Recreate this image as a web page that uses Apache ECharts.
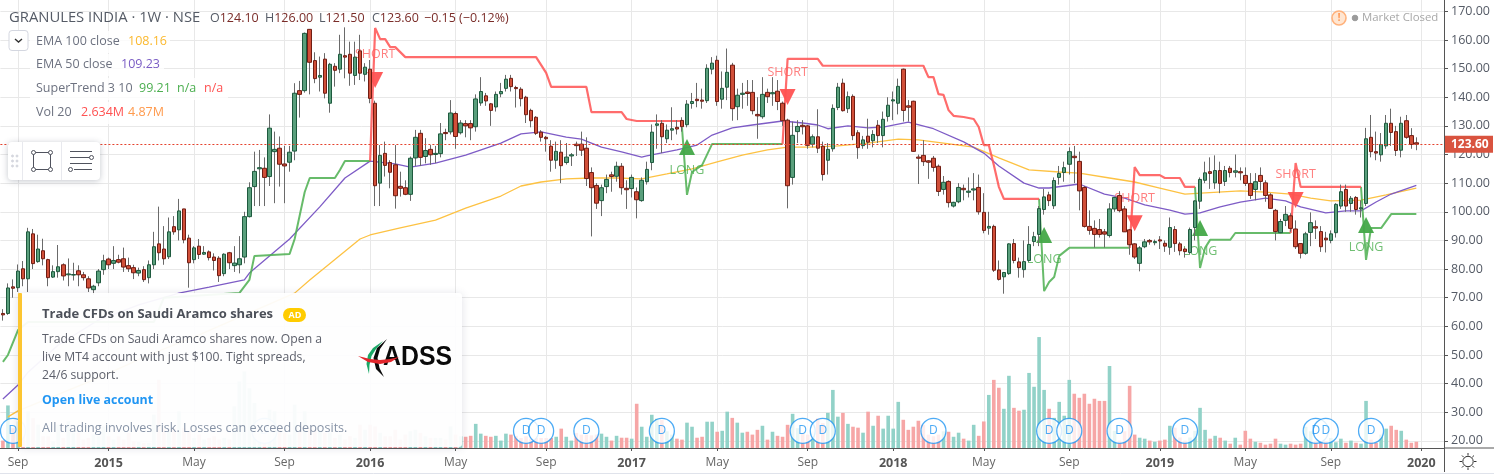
<!DOCTYPE html>
<html><head><meta charset="utf-8"><style>html,body{margin:0;padding:0;background:#fff;overflow:hidden}#c{width:1494px;height:474px}</style>
<script src="https://cdn.jsdelivr.net/npm/echarts@6/dist/echarts.min.js"></script></head><body><div id="c"></div>
<script>
const FONT='"Open Sans"';
// weekly categories
const weeks=[];(function(){let t=Date.UTC(2014,7,11);for(let i=0;i<287;i++){weeks.push(new Date(t).toISOString().slice(0,10));t+=7*864e5;}})();
const tickWeeks={'2014-09-01':'Sep','2015-01-05':'2015','2015-05-04':'May','2015-09-07':'Sep','2016-01-04':'2016','2016-05-02':'May','2016-09-05':'Sep','2017-01-02':'2017','2017-05-01':'May','2017-09-04':'Sep','2018-01-01':'2018','2018-05-07':'May','2018-09-03':'Sep','2019-01-07':'2019','2019-05-06':'May','2019-09-02':'Sep','2020-01-06':'2020'};
const priceTicks=[20,30,40,50,60,70,80,90,100,110,120,130,140,150,160,170];
// [open, close, low, high]
const ohlc=[
[64.5,64,62,66],[64.5,73.4,64,75],[73.8,73.3,70,76.4],[73.5,79.3,72,81.6],[80.1,76.6,74,82.8],[76.6,93,72,94.4],[92.3,81.9,80,94],[82.6,87,82.2,92],[86.4,83.6,81.3,90.6],[83.3,77,74,83.6],
[77.2,79.1,76.9,81.3],[79.1,80.8,77,88.4],[81.5,77.6,76,82],[78,78.3,74,83.7],[77.9,78.1,76,82.2],[79.4,78,74,81.3],[78,77,76,79],[76.6,73.4,72,77.5],[72.8,74,71,74.5],[75.2,79.3,74,80],
[79.8,82.9,78,85],[83.5,81.5,80,84],[82,83,80,88],[83.3,82.4,82,85],[83.6,80.7,79,87.5],[81.2,80.1,79,84],[80.5,78.7,76.5,81.5],[78.6,79.5,77.5,80.5],[79.8,76.3,75.5,81],[77,81.5,75,83],
[81.5,87.8,80,93],[88.8,85.7,83,101.8],[87,83.6,81.5,95],[84.3,93,83.5,98],[94.8,93,92,98.5],[93.7,100.3,90,104.5],[101,90.2,89,101],[90.8,82.2,73.5,92],[83.3,87.4,82,88],[88,85.1,83.5,90.5],
[85.2,85.8,85,88],[86,84,83,86.5],[84.2,83,79.5,85.5],[83.8,77.7,75.5,84.5],[78.4,85.2,77.5,85.5],[85.7,82.2,80,86],[81.2,82.1,79,88],[81.5,83.6,78.5,91.5],[84.2,98.3,82,100],[98.3,108.4,98,110.3],
[108.8,114.1,102,121],[115,115.4,102,121.6],[115.2,112,102,119],[112.3,129.2,109,134],[121,121.8,103,128],[122.2,116.6,108.8,126.3],[116.7,116,103,123],[117.3,120.8,114,123],[121.2,141.4,118,144.9],[142.3,141,132.9,145.7],
[142.3,162.3,141.6,162.6],[163.7,152.2,141,163.7],[152.8,146.5,144.9,155.7],[147,147.6,142,154.2],[153.3,141.4,139.6,155.4],[137.9,151.5,134.6,152],[150.8,149.4,143.7,151.9],[149.8,155,148.4,161.8],[154.5,154,146.6,164.4],[155,148.4,144,159.4],
[147.6,154,144.3,159.4],[156.2,148.4,146,161.8],[148,150.5,145.5,151.9],[149.8,139.6,137.9,153],[137.9,109.1,102,138.8],[110,119.7,102,123.3],[120.4,116.2,112.3,124.5],[117.2,113.8,108.2,118],[116.4,105.6,101.1,123.3],[108.9,108.2,105.3,114],
[108.4,106.1,105.8,111],[106.1,118.7,103.8,119.3],[118.8,126,116,128.6],[127.4,119,116,128.6],[119.3,121.4,116.9,125.7],[121.8,119.9,116.4,123.3],[120,120.4,117,123],[120.3,127.2,119,131],[127.7,127.3,125,129],[127.9,134.5,127,139],
[134.3,126.3,122,135],[127.6,131,127,132],[130.8,130,126,132],[130.8,129.3,125,132],[129.7,139.4,128,141],[138,142,137,147],[140.5,138.7,137,141.5],[137.7,135.4,130,138],[136.6,141,135,142],[141.2,142,140,145],
[143.1,146.3,142,147.8],[146.6,143.7,142,147.8],[143.4,143,136.4,144],[142.8,139.5,136.8,143.5],[140,133.9,131,140.5],[135.4,131.8,129.5,136],[133,127.4,126.8,133.4],[127.8,126,124.5,128.5],[126,125.5,121,126.5],[122.9,118,114,125],
[118,121.1,115,124.5],[120.8,116.1,110,125],[117.2,119.1,116.5,124],[119.5,119.9,116,120.5],[123.6,123.1,119.5,124.5],[123.6,121.5,119.5,128],[122.2,111.6,109,126],[113.7,108.4,91.4,115.5],[109.2,103,101,110],[103.9,108.4,98.5,109.5],
[108.8,111.3,106.5,113],[112.9,112.3,107,114],[112.4,115.9,110.5,117.5],[115.9,108.4,106,117],[108.2,107.7,101,111],[108.1,112,105,113],[107,104.2,97.7,108.5],[103.9,111,103.5,112],[110.5,114.8,109.5,117.5],[117.2,127.8,114.5,130.5],
[130.2,130.7,122,134],[130.9,126.2,120.5,132],[125.5,128.5,124,130.5],[128.5,129,125,136.5],[129.5,128.9,127,132],[131.9,129.7,128,133],[130.4,137.6,129.5,139],[137.8,138.5,136,141.5],[139.3,138.8,136.5,145],[139,138.6,136,143],
[138.8,150.1,138,151.5],[149.8,151.9,148,154],[152.9,138.5,137,154.5],[139.3,143.1,136,149],[143.5,148.7,139,157],[151.2,136,131.8,152],[136.7,140.7,132,143],[141,141.4,136,145],[141.8,141.3,137,146],[141.7,135.3,134,146],
[134,133.5,125.5,140],[133.2,141,132.5,147],[141.7,140.2,138,143],[141.2,141.6,137,147],[142.1,138.5,135.5,146],[137.9,131.8,130,138.5],[132,109.1,101.2,132.5],[112,126.7,109.5,131.5],[128,129.8,124,132],[130.2,129.7,127,132],
[130,123.2,122,130.3],[123.6,126.2,122.5,127],[126.2,122.2,120.5,135.8],[122.9,113,110.9,124.5],[118,121.8,113,124],[122,136.1,121,137.5],[136.4,143.5,135.5,145],[144.9,135.3,135,146.5],[136,140.2,134.5,142],[140.3,126.6,125,141],
[127.6,122.4,118.5,128.5],[123.1,125.1,122,126.5],[126.4,124.3,122,132.5],[124.8,127,122.5,128.5],[130.2,126.6,124,132],[126.6,132.3,122.5,135],[133.3,137.2,131.5,140],[138.7,139.1,132,142],[137.9,143.8,134,146.5],[149.8,135.4,131.5,150],
[137,136.5,131.5,139],[138.6,121.1,121,138.8],[119.1,118.7,109.7,120],[119.7,117.5,116,125],[117.8,117.3,111.5,118],[118.7,115.5,114,119.5],[115.9,107.1,105.5,116.5],[107.8,110.3,106,112.5],[110.6,103.2,101.5,111],[102,103.3,101.5,103.5],
[103.5,108.5,103,110],[108.2,107.7,104,109.5],[106.8,107.2,105,112],[107.6,108,104,113.5],[108.5,100,99,113],[99.8,93.5,92.5,106.5],[94.3,94.9,92,100],[94.9,79.6,79,95.5],[79.7,76.4,76,83],[77.3,78.8,71.4,79],
[78.4,88.8,78,89],[88.9,83,82,90.5],[82.5,80.5,77,84],[79.8,82.6,77,90],[83,88.6,82.5,95],[89.6,91.3,88,93],[92.1,101.1,88,102],[100.8,105.2,99,108],[105.9,103.9,102,107],[102.1,110.9,101,112],
[112,113.4,109.5,116],[113.7,115.4,110.5,117.5],[116.6,121,113,122.5],[119.4,118.9,110,123],[117.6,107.3,100.5,121],[108.5,94.9,94.5,109],[94.9,93.5,92,100.5],[94.2,92.1,87.5,97],[93.8,92.1,91,97.5],[93,92.2,87.5,94],
[91.7,101,91,103],[101,105,100,105.2],[105.7,100.4,99.8,107.2],[101,93,93,102],[93.7,88.5,85,94],[88.8,84.2,83.5,89],[82,87.4,79.2,88],[87.8,89.5,87.3,90.5],[90,89.5,88.5,90.5],[89.2,89.6,88.3,90.3],
[90.2,89.8,87,91.5],[89,88,86,90],[87.6,94.5,85,98],[93.8,88.9,86,95],[88.8,86.4,84.8,89.5],[87,86.1,84,87.5],[85.8,93.8,85,94.5],[94.5,103.8,90,104],[103.7,111.3,101,112],[111,113.6,110,117.5],
[114,113.4,108,119],[110.1,114.4,108,119.7],[114.4,109.9,106.5,117.5],[110.6,114.4,109,116],[115.2,113.7,112,116],[113.8,114.3,112,120],[114,113.6,111,115.5],[112.7,109.9,109,115.5],[109.9,105.7,104.5,113.5],[107.8,110.5,104,113.5],
[112.7,110.6,107.5,115.5],[110.1,105.7,103.5,111],[105.9,101.2,101,106.5],[100.5,93.1,90,101],[92.7,96.6,92.5,97.5],[97,99.1,95,102],[98.6,94.2,93,99.5],[94,87.8,87,97],[88.9,85.5,83.7,89],[85.5,92.3,85,93],
[92.8,96.2,88,99.8],[94.8,94.3,90.5,97],[93.1,87.8,86,95],[90.8,90.2,85.8,93],[90,92.3,89,93.5],[92.7,102.6,91,103],[102,107,101,109.5],[107.8,102,100,109.5],[102.9,104.7,100,105.5],[105,100.8,99,105.5],
[101,101.4,98,104],[102.9,125.5,102,129.3],[126,121,119,133.8],[121,120.5,118,128],[119.9,123.5,117.5,127.5],[123,130.9,122,133.8],[130.9,127.7,123,136],[128,121.4,119.5,130],[121.5,130.9,119,133.2],[131.8,126,125.5,133.8],
[126.6,123.5,122,129.2],[124.1,123.6,121.5,126]];
// volume, millions
const volume=[3.1,17.8,8.3,11.1,8.3,15.3,12.5,9.7,4.9,4.9,2.8,9.7,4.2,11.1,6.3,6.3,3.5,4.2,5.6,4.9,9,4.9,3.5,4.9,3.5,6.3,2.8,2.5,2.1,2.1,13.9,28.5,8.3,7,8.3,15.3,8.3,7,4.2,5.6,3.5,4.2,4.9,3.5,4.2,3.5,17.4,27.8,32,25,18.8,9.7,7,16,15.3,8.3,6.3,5.6,18.1,7,15.3,8.3,7.6,7,6.3,6.3,4.2,5.6,3.5,4.9,4.2,9.7,7.6,9.7,9,6.3,4.9,4.9,7.6,3.5,5.6,7,7.6,6.3,4.9,4.2,4.2,4.2,3.5,9,5.6,4.9,4.7,5.1,10.1,6,5.1,4.7,5.1,3.1,6,5.6,5.1,4.2,4.9,3.9,4.2,4.2,4.2,4.2,4.7,8.1,4.7,3.1,6.3,5.6,5.6,5.3,5.6,6,4.7,3.1,5.1,4.3,4.3,3.9,18.5,8.9,4.7,13.9,12.2,11.7,7,5.6,3.9,3.5,10.6,8.9,4.3,4.7,11,11,6.8,7.2,15.2,12.6,10.6,6.4,6.8,5.6,7.6,9.3,3.5,6.8,5.1,4.7,9.7,14.3,8.3,6.3,5.6,7,12.2,10.4,14.7,24.3,13.1,14.7,10.1,8.9,8.5,6.4,15.2,9.3,13.5,8.1,13.5,8.1,19.3,11.8,7.6,8.9,11.4,9.7,5.6,4.9,5.6,7,6.8,4.7,6.4,3.9,3.1,9.7,5.1,11.1,22.2,28.5,25.2,16.4,30.2,16.8,15.6,16,31.4,25.6,46.4,24.3,16.4,12.6,19.3,13.5,28.5,22.7,21,22.7,18.5,20.6,19.7,19.7,34.3,7.2,3.1,7,26,5.6,4.3,3.9,3.1,2.6,3.1,3.5,9.3,8.5,4.4,3.1,4.4,7.2,16.8,7.6,3.9,5.1,4.3,3.1,1.8,4.3,1.4,7.2,3.9,2.6,2.2,1.4,1.8,3.9,1.8,1.4,1.8,1.4,1.8,8.9,7,2.8,2.8,2.8,4.2,2.4,3.9,2.2,3.1,2.2,1.8,19.7,3.5,2.1,5.6,8.1,9.3,7.6,7.2,3.5,2.2,2.634];
// [week index, value]
const ema50=[[0,34.6],[3,39.5],[5,44],[11,53.5],[19,62.2],[27,67.5],[35,71.6],[41,73.7],[48,76.2],[49,78.6],[57,90.5],[63,101.7],[68,111.8],[73,117.7],[78,116.7],[81,115.6],[86,117],[92,119.8],[99,124],[103,127.2],[107,127.9],[112,126.1],[115,125.4],[119,122.6],[123,120.9],[127,119.1],[128,119.5],[134,121.6],[138,123.3],[141,126.8],[145,129.3],[149,130.3],[155,131.7],[159,131],[162,130.3],[164,129],[168,130],[172,129.3],[175,129.6],[180,131.3],[185,129],[191,124.4],[195,120.5],[198,116],[203,110],[206,108.3],[208,108.3],[214,109.7],[219,106.2],[223,104.8],[227,102.4],[232,100.6],[235,99.2],[238,99.6],[242,101.7],[246,103.4],[251,104.8],[255,103.8],[258,101.7],[263,99.6],[267,100.3],[270,100.3],[273,103.4],[276,106.2],[281,109.2]];
const ema100=[[1,28.4],[3,30.5],[19,42],[29,50],[39,57],[49,64.7],[58,71.6],[61,76.2],[71,90.5],[73,91.9],[79,94.4],[86,97.1],[92,101.3],[99,105.5],[103,109],[107,110.4],[112,111.5],[117,111.8],[122,111.8],[127,111.5],[132,113.2],[137,115],[142,117.4],[147,119.8],[152,121.6],[156,122.6],[161,122.6],[166,123],[172,124],[178,125.4],[182,125.1],[187,124],[193,122.6],[198,118.8],[204,114.6],[210,113.9],[214,113.5],[220,111.8],[225,110.4],[230,108.3],[235,106.2],[239,106.6],[246,107.3],[251,106.9],[256,106.2],[260,104.8],[264,103.8],[270,104.1],[275,105.9],[281,108.3]];
const trendUp=[
[[0,47.6],[1,50],[3,58.7],[5,61.5],[30,61.5],[32,70],[47,71.6],[49,76.2],[50,84.6],[57,85.3],[58,90.5],[60,106.9],[61,111.8],[66,111.8],[67,114.6],[68,117.7],[73,117.7]],
[[135,129.5],[136,105.9],[137,113.9],[139,116.3],[141,123.7],[155,123.7]],
[[206,104.5],[207,72.3],[208,75.5],[209,77.2],[210,84.6],[212,87.4],[224,87.4]],
[[237,108.7],[238,80.4],[239,87.4],[240,90.2],[244,90.2],[245,92.6],[256,92.6]],
[[270,108.7],[271,83.2],[272,94.3],[274,94.3],[276,99.2],[281,99.2]]];
const trendDown=[
[[73,117.7],[74,164.2],[75,160.3],[76,160.3],[77,157.5],[78,157.5],[80,154],[106,154],[108,148.5],[109,143.6],[116,143.6],[117,134.8],[123,134.8],[124,132.4],[126,131.7],[135,131.7]],
[[155,123.7],[156,153.4],[162,153.4],[163,151],[183,151],[184,147],[185,147],[186,141.1],[187,140.8],[188,135.5],[189,133.5],[191,133.1],[193,132.4],[194,129.6],[195,123.3],[196,123.3],[197,116.3],[198,108.7],[199,104.5],[206,104.5]],
[[224,87.4],[225,115.6],[226,112.8],[230,112.8],[231,111.8],[234,111.8],[235,108.7],[237,108.7]],
[[256,92.6],[257,117],[258,108.7],[270,108.7]]];
const longArrows=[[136,122.6],[207,91.9],[238,94.3],[271,95.4]];
const shortArrows=[[74,146],[156,140.1],[225,96],[257,104.1]];
const longLabels=[[136,114.3],[207,83.5],[238,86],[271,87.4]];
const shortLabels=[[74,155.1],[156,148.8],[225,104.8],[257,112.9]];
const dividendWeeks=[2,52,104,107,116,131,159,163,185,208,212,222,235,261,263,272];
const dividendLevel=23.5;
const lastClose=123.6;

const isTick=(i,v)=>tickWeeks[v]!==undefined;
const C={grid:'#e8e8e8',txt:'#555b66',green:'#4caf50',red:'#ff5252',up:'#5a9f7c',upB:'#1e5a3e',dn:'#d14f39',dnB:'#701d13'};
function line(name,d,color,w,op){return {name,type:'line',data:d,xAxisIndex:0,yAxisIndex:0,showSymbol:false,symbol:'none',z:2,silent:true,lineStyle:{color,width:w,opacity:op===undefined?1:op}};}
const series=[];
series.push({type:'bar',name:'Volume',xAxisIndex:1,yAxisIndex:1,barWidth:3.6,z:1,silent:true,
  data:volume.map((v,i)=>({value:v,itemStyle:{color:ohlc[i][1]>=ohlc[i][0]?'#92d2c8':'#f6a6a6'}}))});
series.push(line('EMA 100',ema100,'#fdc243',1.3));
series.push(line('EMA 50',ema50,'#7e5cc6',1.3));
trendUp.forEach(s=>series.push(line('ST up',s,C.green,2,.85)));
trendDown.forEach(s=>series.push(line('ST down',s,C.red,2.2,.85)));
const mk=(name,d,extra)=>Object.assign({name,type:'scatter',data:d,xAxisIndex:0,yAxisIndex:0,z:2,silent:true},extra);
series.push(mk('long arrows',longArrows,{symbol:'triangle',symbolSize:[16,16],itemStyle:{color:'#43a848',opacity:.95}}));
series.push(mk('short arrows',shortArrows,{symbol:'triangle',symbolRotate:180,symbolSize:[16,16],itemStyle:{color:C.red,opacity:.95}}));
const lab=(t,c)=>({show:true,position:'inside',formatter:t,color:c,fontFamily:FONT,fontSize:12.5});
series.push(mk('LONG',longLabels,{symbolSize:1,itemStyle:{color:'transparent'},label:lab('LONG','#4caf50')}));
series.push(mk('SHORT',shortLabels,{symbolSize:1,itemStyle:{color:'transparent'},label:lab('SHORT','#ff5f5f')}));
series.push({type:'candlestick',name:'wick',xAxisIndex:0,yAxisIndex:0,barWidth:1,z:3,silent:true,
  data:ohlc.map(r=>[r[0],r[1],r[2],r[3]]),
  itemStyle:{color:'#6a6a6a',color0:'#6a6a6a',borderColor:'#6a6a6a',borderColor0:'#6a6a6a',borderWidth:1}});
series.push({type:'candlestick',name:'GRANULES',xAxisIndex:0,yAxisIndex:0,barWidth:4,z:4,silent:true,
  data:ohlc.map(r=>[r[0],r[1],Math.min(r[0],r[1]),Math.max(r[0],r[1])]),
  itemStyle:{color:C.up,color0:C.dn,borderColor:C.upB,borderColor0:C.dnB,borderWidth:1},
  markLine:{silent:true,symbol:'none',z:5,animation:false,lineStyle:{color:'#e5412c',type:[2,2],width:1},
    label:{show:true,position:'end',distance:1,formatter:()=>lastClose.toFixed(2),color:'#fff',backgroundColor:'#d9533f',fontFamily:FONT,fontSize:12,fontWeight:'bold',padding:[3,6,2,6],width:36,align:'left'},
    data:[{yAxis:lastClose}]}});
series.push(mk('Dividends',dividendWeeks.map(i=>[i,dividendLevel]),{symbol:'circle',symbolSize:25,z:6,
  itemStyle:{color:'#fff',borderColor:'#2196f3',borderWidth:1.3},
  label:{show:true,position:'inside',formatter:'D',color:'#2196f3',fontFamily:FONT,fontSize:12}}));

// ---- chrome
const T=(text,x,y,fill,size,weight,extra)=>({type:'text',z:22,silent:true,style:Object.assign({text,x,y,fill,font:(weight?weight+' ':'')+size+'px '+FONT,verticalAlign:'middle'},extra||{})});
const R=(x,y,w,h,fill,r,extra)=>({type:'rect',z:19,silent:true,shape:{x,y,width:w,height:h,r:r||0},style:Object.assign({fill},extra||{})});
const L=(a,b,c,d,stroke,w,z)=>({type:'line',z:z||20,silent:true,shape:{x1:a,y1:b,x2:c,y2:d},style:{stroke,lineWidth:w||1}});
const CI=(x,y,r,fill,stroke,w,z)=>({type:'circle',z:z||21,silent:true,shape:{cx:x,cy:y,r},style:{fill,stroke,lineWidth:w||1}});
const g=[];
// legend backgrounds
[[30,31,140],[30,54,134],[30,78,198],[30,102,138]].forEach(a=>g.push(R(a[0],a[1],a[2],22,'rgba(255,255,255,0.8)')));
const vc='#7a2c28';
g.push(T('GRANULES INDIA · 1W · NSE',9,17.5,'#555b66',14.8));
[['O','124.10',210],['H','126.00',265],['L','121.50',319],['C','123.60',372]].forEach(a=>{
  g.push({type:'text',z:22,silent:true,style:{x:a[2],y:18,verticalAlign:'middle',text:'{a|'+a[0]+'}{b|'+a[1]+'}',rich:{a:{fill:'#555b66',font:'12.5px '+FONT},b:{fill:vc,font:'12.5px '+FONT}}}});
});
g.push(T('−0.15 (−0.12%)',424,18,vc,12.5));
// legend rows
g.push(T('EMA 100 close',36,41,'#6d7280',12.5),T('108.16',128,41,'#fbb92f',12.5));
g.push(T('EMA 50 close',36,64.5,'#6d7280',12.5),T('109.23',121,64.5,'#7a5cc4',12.5));
g.push(T('SuperTrend 3 10',36,88.5,'#6d7280',12.5),T('99.21',139,88.5,'#4caf50',12.5),T('n/a',177,88.5,'#4caf50',12.5),T('n/a',204,88.5,'#ff5252',12.5));
g.push(T('Vol 20',36,112.5,'#6d7280',12.5),T('2.634M',81,112.5,'#ff5252',12.5),T('4.87M',128,112.5,'#ff9a4d',12.5));
// collapse button
g.push(R(9,30.5,19,20,'#fff',3,{stroke:'#d4d7e0',lineWidth:1}));
g.push({type:'polyline',z:20,silent:true,shape:{points:[[15,39],[18.5,42],[22,39]]},style:{stroke:'#333',lineWidth:1.4,fill:null}});
// drawing toolbar
g.push(R(8,142,92,38,'#fff',4,{shadowBlur:6,shadowColor:'rgba(60,70,90,0.3)',shadowOffsetY:1}));
g.push(L(22.5,142,22.5,180,'#e8e9ee'),L(61.5,142,61.5,180,'#e8e9ee'));
[[12.5,156],[17,156],[12.5,161],[17,161],[12.5,166],[17,166]].forEach(p=>g.push(CI(p[0],p[1],1,'#d5d7de','#d5d7de',0)));
g.push(R(33.5,152.5,17,17,'none',0,{stroke:'#50535e',lineWidth:1}));
[[33.5,152.5],[50.5,152.5],[33.5,169.5],[50.5,169.5]].forEach(p=>g.push(CI(p[0],p[1],2,'#fff','#50535e')));
g.push(L(70,151.5,92,151.5,'#50535e'),L(70,157.5,90,157.5,'#50535e'),L(74,169.5,92,169.5,'#50535e'),L(70,163.5,92,163.5,'#50535e'));
g.push(CI(91.5,157.5,2,'#fff','#50535e'),CI(70.5,169.5,2,'#fff','#50535e'));
// market closed
g.push(CI(1339,18,7,'#ffe6d2','#ffb27c',1.6),T('!',1337.6,18,'#ff9d5c',11,'bold'));
g.push(CI(1355,18,2.8,'#9b9b9b','#9b9b9b',0),T('Market Closed',1362,18,'#a8a8a8',11.4));
// axes
g.push(L(1444.5,0,1444.5,472,'#555',1),L(1444.5,448,1494,448,'#555',1),L(0,473.5,1494,473.5,'#e0e3eb',1));
// settings icon
g.push(CI(1468,461.5,5.2,'#fff','#333',1));
[[1468,453,1468,455.5],[1468,467.5,1468,470],[1459.5,461.5,1462,461.5],[1474,461.5,1476.5,461.5],[1462,455.5,1463.8,457.3],[1472.2,465.7,1474,467.5],[1474,455.5,1472.2,457.3],[1463.8,465.7,1462,467.5]].forEach(a=>g.push(L(a[0],a[1],a[2],a[3],'#333',1)));
// ad
g.push(R(18,293,444,154,'rgba(255,255,255,0.94)',3,{shadowBlur:8,shadowColor:'rgba(70,80,110,0.18)',shadowOffsetY:1}));
g.push(R(18,293,4,154,'#fcc531',1));
g.push(T('Trade CFDs on Saudi Aramco shares',42,314.5,'#4c5059',13,'bold'));
g.push(R(283,308,23,14,'#ffcc00',7),T('AD',288.5,315,'#fff',9,'bold'));
g.push(T('Trade CFDs on Saudi Aramco shares now. Open a',42,339.5,'#5d606b',12.2));
g.push(T('live MT4 account with just $100. Tight spreads,',42,357.5,'#5d606b',12.2));
g.push(T('24/6 support.',42,376,'#5d606b',12.2));
g.push(T('Open live account',42,400.5,'#2196f3',12.4,'bold'));
g.push(T('All trading involves risk. Losses can exceed deposits.',42,428.5,'#8793a6',12.6));
// logo
g.push({type:'text',z:22,silent:true,x:383,y:357.5,scaleX:.92,style:{text:'ADSS',x:0,y:0,fill:'#0a0a0a',font:'bold 27px "Liberation Sans"',verticalAlign:'middle'}});
const P=(pts,fill)=>({type:'polygon',z:22,silent:true,shape:{points:pts},style:{fill}});
g.push(P([[369,374],[366.5,364],[368,355],[373,348],[383,341],[376,349],[371.5,356],[369.5,365]],'#1aa866'));
g.push(P([[384,377],[376,369],[373.5,358],[377,348],[387,339],[380,349],[377.5,358],[379.5,368]],'#0a0a0a'));
g.push(P([[358,356],[370,359],[380,360],[390,359],[399,357],[391,362],[380,364],[368,362]],'#e2262c'));

const option={animation:false,backgroundColor:'#fff',textStyle:{fontFamily:FONT},
 grid:[{left:0.4,width:1443.6,top:0,height:440.9,containLabel:false},{left:0.4,width:1443.6,top:300,height:148,containLabel:false}],
 xAxis:[
  {type:'category',gridIndex:0,data:weeks,boundaryGap:true,axisLine:{show:false},axisTick:{show:false},axisLabel:{show:false},
   splitLine:{show:true,interval:isTick,alignWithLabel:true,lineStyle:{color:C.grid,width:1}}},
  {type:'category',gridIndex:1,data:weeks,boundaryGap:true,axisLine:{show:true,onZero:false,lineStyle:{color:'#555',width:1}},
   axisTick:{show:true,interval:isTick,alignWithLabel:true,length:3,lineStyle:{color:'#555'}},
   splitLine:{show:true,interval:isTick,alignWithLabel:true,lineStyle:{color:C.grid,width:1}},
   axisLabel:{show:true,interval:isTick,margin:9,hideOverlap:false,showMinLabel:true,showMaxLabel:true,fontFamily:FONT,fontSize:12,color:'#666',
    formatter:(v)=>{const t=tickWeeks[v];if(t===undefined)return '';return /^\d/.test(t)?'{y|'+t+'}':t;},
    rich:{y:{fontFamily:FONT,fontSize:12.5,fontWeight:'bold',color:'#555'}}}}],
 yAxis:[
  {type:'value',gridIndex:0,position:'right',min:20,max:173.95,interval:10,scale:false,
   axisLine:{show:false},axisTick:{show:true,length:4,lineStyle:{color:'#555'}},
   splitLine:{show:true,showMinLine:true,showMaxLine:false,lineStyle:{color:C.grid,width:1}},
   axisLabel:{margin:7,showMaxLabel:false,fontFamily:FONT,fontSize:12.5,color:'#555b66',formatter:v=>priceTicks.includes(v)?v.toFixed(2):''}},
  {type:'value',gridIndex:1,min:0,max:61.9,show:false,splitLine:{show:false}}],
 series,graphic:{elements:g}};
const chart=echarts.init(document.getElementById('c'),null,{renderer:'canvas',width:1494,height:474});
chart.setOption(option);
</script></body></html>
